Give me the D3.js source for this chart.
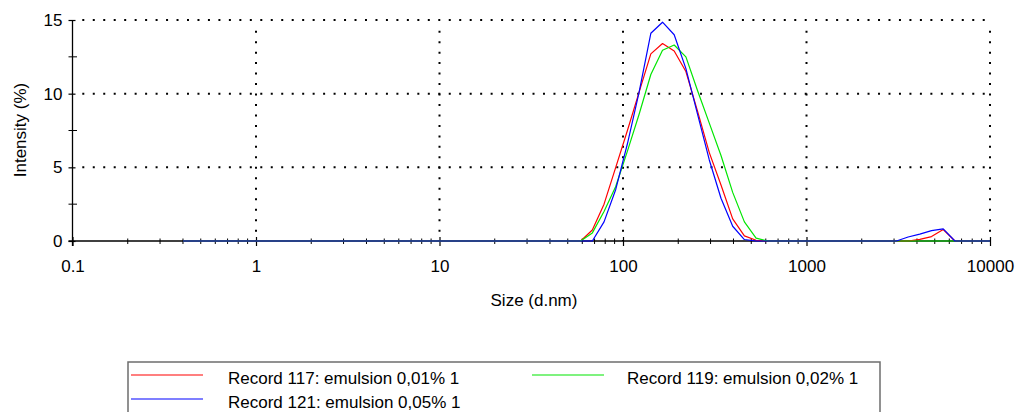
<!DOCTYPE html>
<html>
<head>
<meta charset="utf-8">
<script src="https://cdn.jsdelivr.net/npm/d3@7/dist/d3.min.js"></script>
<style>
  html, body { margin: 0; padding: 0; background: #fff; }
  svg { display: block; }
  text { font-family: "Liberation Sans", Arial, sans-serif; fill: #000; }
</style>
</head>
<body>
<svg id="chart" width="1018" height="412"></svg>
<script>
// Size classes (d.nm) of the distribution
const sizes = [0.4, 0.4632, 0.5365, 0.6213, 0.7195, 0.8332, 0.9650, 1.117, 1.294, 1.499,
  1.736, 2.010, 2.328, 2.696, 3.122, 3.615, 4.187, 4.849, 5.615, 6.503,
  7.531, 8.721, 10.10, 11.70, 13.54, 15.69, 18.17, 21.04, 24.36, 28.21,
  32.67, 37.84, 43.82, 50.75, 58.77, 68.06, 78.82, 91.28, 105.7, 122.4,
  141.8, 164.2, 190.1, 220.2, 255.0, 295.3, 342.0, 396.1, 458.7, 531.2,
  615.1, 712.4, 825.0, 955.4, 1106, 1281, 1484, 1718, 1990, 2305,
  2669, 3091, 3580, 4145, 4801, 5560, 6439, 7456, 8635, 10000];

// Intensity (%) per size class
const record117 = [0, 0, 0, 0, 0, 0, 0, 0, 0, 0,
  0, 0, 0, 0, 0, 0, 0, 0, 0, 0,
  0, 0, 0, 0, 0, 0, 0, 0, 0, 0,
  0, 0, 0, 0, 0, 0.75, 2.5, 5.0, 7.5, 10.1,
  12.7, 13.4, 12.9, 11.5, 8.8, 6.0, 3.8, 1.5, 0.35, 0.05,
  0, 0, 0, 0, 0, 0, 0, 0, 0, 0,
  0, 0, 0, 0.11, 0.3, 0.78, 0, 0, 0, 0];

const record119 = [0, 0, 0, 0, 0, 0, 0, 0, 0, 0,
  0, 0, 0, 0, 0, 0, 0, 0, 0, 0,
  0, 0, 0, 0, 0, 0, 0, 0, 0, 0,
  0, 0, 0, 0, 0, 0.55, 2.0, 3.7, 6.1, 8.6,
  11.3, 12.95, 13.3, 12.5, 10.2, 8.0, 5.8, 3.3, 1.3, 0.2,
  0, 0, 0, 0, 0, 0, 0, 0, 0, 0,
  0, 0, 0, 0, 0, 0, 0, 0, 0, 0];

const record121 = [0, 0, 0, 0, 0, 0, 0, 0, 0, 0,
  0, 0, 0, 0, 0, 0, 0, 0, 0, 0,
  0, 0, 0, 0, 0, 0, 0, 0, 0, 0,
  0, 0, 0, 0, 0, 0, 1.3, 3.5, 6.6, 10.1,
  14.1, 14.85, 14.0, 11.7, 8.6, 5.5, 2.9, 1.0, 0.1, 0,
  0, 0, 0, 0, 0, 0, 0, 0, 0, 0,
  0, 0, 0.27, 0.47, 0.7, 0.82, 0, 0, 0, 0];

const seriesNames = ["Record 117: emulsion 0,01% 1", "Record 119: emulsion 0,02% 1", "Record 121: emulsion 0,05% 1"];
const seriesColors = ["#ff0000", "#00e600", "#0000ff"];
const seriesValues = [record117, record119, record121];

const xTickValues = [0.1, 1, 10, 100, 1000, 10000];
const xTickLabels = ["0.1", "1", "10", "100", "1000", "10000"];
const yTickValues = [0, 5, 10, 15];
const yMinorValues = [2.5, 7.5, 12.5];

const svg = d3.select("#chart");
const plotLeft = 72.5, plotRight = 990, plotTop = 20, plotBottom = 241;

const x = d3.scaleLog().domain([0.1, 10000]).range([plotLeft, plotRight]);
const y = d3.scaleLinear().domain([0, 15]).range([plotBottom, plotTop]);

// Dotted grid
const grid = svg.append("g").attr("stroke", "#000").attr("stroke-width", 2)
  .attr("stroke-dasharray", "2 8.47");
grid.selectAll("line.h").data(yTickValues.filter(v => v > 0)).join("line")
  .attr("class", "h")
  .attr("x1", plotLeft + 9.8).attr("x2", plotRight)
  .attr("y1", d => y(d)).attr("y2", d => y(d));
grid.selectAll("line.v").data(xTickValues.filter(v => v > 0.1)).join("line")
  .attr("class", "v")
  .attr("x1", d => x(d)).attr("x2", d => x(d))
  .attr("y1", plotTop + 10.7).attr("y2", plotBottom);

// Axes
const xAxisG = svg.append("g").attr("transform", `translate(0,${plotBottom})`)
  .call(d3.axisBottom(x).tickValues(xTickValues).tickFormat((d, i) => xTickLabels[i]).tickSize(5).tickPadding(14));
xAxisG.select(".domain").remove();
xAxisG.selectAll(".tick line").attr("y1", -4).attr("y2", 5).attr("stroke", "#000").attr("stroke-width", 1.2);
xAxisG.selectAll(".tick text").attr("font-size", 17).attr("font-family", "Liberation Sans, Arial, sans-serif");

const minorX = x.ticks().filter(v => !xTickValues.includes(v));
svg.append("g").selectAll("line").data(minorX).join("line")
  .attr("x1", d => x(d)).attr("x2", d => x(d))
  .attr("y1", plotBottom - 2.5).attr("y2", plotBottom + 3)
  .attr("stroke", "#000").attr("stroke-width", 1);

const yAxisG = svg.append("g").attr("transform", `translate(${plotLeft},0)`)
  .call(d3.axisLeft(y).tickValues(yTickValues).tickSize(4).tickPadding(6));
yAxisG.select(".domain").remove();
yAxisG.selectAll(".tick line").attr("x1", -4).attr("x2", 3).attr("stroke", "#000").attr("stroke-width", 1.2);
yAxisG.selectAll(".tick text").attr("font-size", 17).attr("font-family", "Liberation Sans, Arial, sans-serif");

svg.append("g").selectAll("line").data(yMinorValues).join("line")
  .attr("x1", plotLeft - 4).attr("x2", plotLeft + 4.5)
  .attr("y1", d => y(d)).attr("y2", d => y(d))
  .attr("stroke", "#000").attr("stroke-width", 1);

// Axis lines
svg.append("line").attr("x1", plotLeft).attr("x2", plotLeft).attr("y1", plotTop).attr("y2", plotBottom + 5)
  .attr("stroke", "#000").attr("stroke-width", 1.3);
svg.append("line").attr("x1", plotLeft - 4).attr("x2", plotRight).attr("y1", plotBottom).attr("y2", plotBottom)
  .attr("stroke", "#000").attr("stroke-width", 1.3);

// Axis titles
svg.append("text").attr("x", 534).attr("y", 306).attr("text-anchor", "middle")
  .attr("font-size", 17).text("Size (d.nm)");
svg.append("text").attr("transform", "translate(26,130) rotate(-90)").attr("text-anchor", "middle")
  .attr("font-size", 17).text("Intensity (%)");

// Distribution curves
const line = d3.line().x(d => x(d[0])).y(d => y(d[1]));
svg.append("g").selectAll("path").data(seriesValues).join("path")
  .attr("d", vals => line(sizes.map((s, i) => [s, vals[i]])))
  .attr("fill", "none")
  .attr("stroke", (d, i) => seriesColors[i])
  .attr("stroke-width", 1.2)
  .attr("stroke-linejoin", "round");

// Legend
const legend = svg.append("g");
legend.append("rect").attr("x", 128).attr("y", 362).attr("width", 752).attr("height", 70)
  .attr("fill", "#fff").attr("stroke", "#6d6d6d").attr("stroke-width", 1.5);
const legendPos = [
  { lx: 131, tx: 228, ly: 375, ty: 383.5 },
  { lx: 532, tx: 627, ly: 375, ty: 383.5 },
  { lx: 131, tx: 228, ly: 399, ty: 407.5 }
];
const items = legend.selectAll("g.item").data(seriesNames).join("g").attr("class", "item");
items.append("line")
  .attr("x1", (d, i) => legendPos[i].lx).attr("x2", (d, i) => legendPos[i].lx + 72)
  .attr("y1", (d, i) => legendPos[i].ly).attr("y2", (d, i) => legendPos[i].ly)
  .attr("stroke", (d, i) => seriesColors[i]).attr("stroke-width", 1.2);
items.append("text")
  .attr("x", (d, i) => legendPos[i].tx).attr("y", (d, i) => legendPos[i].ty)
  .attr("font-size", 17).text(d => d);
</script>
</body>
</html>
